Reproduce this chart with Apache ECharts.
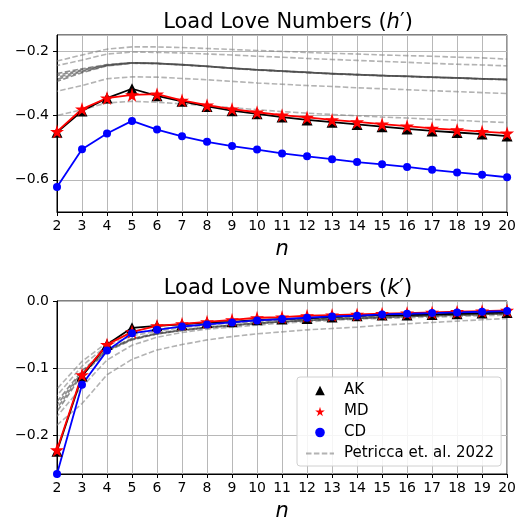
<!DOCTYPE html>
<html>
<head>
<meta charset="utf-8">
<script src="https://cdn.jsdelivr.net/npm/echarts@6/dist/echarts.min.js"></script>
<style>
  html, body { margin: 0; padding: 0; background: #fff; }
  #main { width: 519px; height: 523px; }
</style>
</head>
<body>
<div id="main"></div>
<script>
// degrees n = 2..20
const nList = [2, 3, 4, 5, 6, 7, 8, 9, 10, 11, 12, 13, 14, 15, 16, 17, 18, 19, 20];

// h' values
const hAK = [-0.452, -0.386, -0.346, -0.317, -0.339, -0.356, -0.372, -0.385, -0.395, -0.405, -0.414, -0.421, -0.428, -0.435, -0.442, -0.448, -0.453, -0.458, -0.464];
const hMD = [-0.450, -0.380, -0.346, -0.336, -0.334, -0.353, -0.368, -0.380, -0.390, -0.399, -0.406, -0.414, -0.420, -0.427, -0.433, -0.440, -0.445, -0.450, -0.455];
const hCD = [-0.622, -0.505, -0.456, -0.417, -0.444, -0.465, -0.482, -0.495, -0.506, -0.518, -0.527, -0.536, -0.545, -0.552, -0.560, -0.569, -0.577, -0.584, -0.592];

// Petricca et al. 2022 curves for h'
const hP1 = [-0.231, -0.212, -0.194, -0.187, -0.187, -0.189, -0.192, -0.195, -0.198, -0.201, -0.204, -0.207, -0.209, -0.212, -0.214, -0.216, -0.219, -0.221, -0.225];
const hP2 = [-0.245, -0.228, -0.209, -0.203, -0.204, -0.206, -0.209, -0.212, -0.216, -0.219, -0.223, -0.226, -0.229, -0.232, -0.235, -0.238, -0.241, -0.243, -0.246];
const hB1 = [-0.270, -0.255, -0.242, -0.236, -0.238, -0.242, -0.247, -0.253, -0.258, -0.262, -0.266, -0.270, -0.273, -0.276, -0.278, -0.281, -0.283, -0.286, -0.288];
const hB2 = [-0.276, -0.258, -0.243, -0.236, -0.238, -0.242, -0.247, -0.253, -0.258, -0.262, -0.266, -0.270, -0.273, -0.276, -0.278, -0.281, -0.283, -0.286, -0.288];
const hB3 = [-0.282, -0.261, -0.244, -0.237, -0.238, -0.242, -0.247, -0.253, -0.258, -0.262, -0.266, -0.270, -0.273, -0.276, -0.278, -0.281, -0.283, -0.286, -0.288];
const hB4 = [-0.288, -0.264, -0.245, -0.237, -0.239, -0.243, -0.248, -0.253, -0.258, -0.262, -0.266, -0.270, -0.273, -0.276, -0.279, -0.281, -0.284, -0.286, -0.289];
const hB5 = [-0.294, -0.267, -0.246, -0.238, -0.239, -0.243, -0.248, -0.254, -0.259, -0.263, -0.267, -0.271, -0.274, -0.277, -0.279, -0.282, -0.284, -0.287, -0.289];
const hP3 = [-0.325, -0.307, -0.286, -0.280, -0.281, -0.285, -0.289, -0.294, -0.299, -0.303, -0.307, -0.310, -0.314, -0.317, -0.320, -0.323, -0.326, -0.329, -0.332];
const hP4 = [-0.400, -0.382, -0.361, -0.356, -0.359, -0.364, -0.370, -0.376, -0.382, -0.388, -0.393, -0.397, -0.401, -0.405, -0.408, -0.412, -0.415, -0.419, -0.422];

// k' values
const kAK = [-0.224, -0.112, -0.065, -0.040, -0.037, -0.035, -0.032, -0.031, -0.028, -0.027, -0.026, -0.024, -0.022, -0.021, -0.021, -0.020, -0.019, -0.018, -0.017];
const kMD = [-0.222, -0.110, -0.065, -0.046, -0.037, -0.034, -0.031, -0.028, -0.025, -0.024, -0.022, -0.021, -0.020, -0.019, -0.018, -0.017, -0.016, -0.015, -0.014];
const kCD = [-0.258, -0.125, -0.074, -0.048, -0.043, -0.038, -0.035, -0.032, -0.029, -0.027, -0.025, -0.023, -0.022, -0.020, -0.019, -0.018, -0.017, -0.016, -0.015];

// Petricca et al. 2022 curves for k'
const kP1 = [-0.185, -0.153, -0.110, -0.087, -0.073, -0.065, -0.058, -0.053, -0.049, -0.046, -0.043, -0.041, -0.039, -0.036, -0.034, -0.032, -0.030, -0.028, -0.026];
const kP2 = [-0.172, -0.128, -0.088, -0.066, -0.054, -0.047, -0.042, -0.039, -0.036, -0.033, -0.031, -0.029, -0.027, -0.026, -0.025, -0.024, -0.023, -0.022, -0.021];
const kB1 = [-0.150, -0.104, -0.072, -0.056, -0.048, -0.043, -0.039, -0.036, -0.033, -0.031, -0.029, -0.027, -0.026, -0.024, -0.023, -0.022, -0.021, -0.020, -0.019];
const kB2 = [-0.155, -0.106, -0.073, -0.057, -0.049, -0.043, -0.039, -0.036, -0.033, -0.031, -0.029, -0.027, -0.026, -0.024, -0.023, -0.022, -0.021, -0.020, -0.019];
const kB3 = [-0.160, -0.108, -0.074, -0.057, -0.049, -0.044, -0.040, -0.036, -0.033, -0.031, -0.029, -0.027, -0.026, -0.024, -0.023, -0.022, -0.021, -0.020, -0.019];
const kB4 = [-0.165, -0.110, -0.075, -0.058, -0.049, -0.044, -0.040, -0.037, -0.034, -0.031, -0.029, -0.028, -0.026, -0.025, -0.023, -0.022, -0.021, -0.020, -0.019];
const kP3 = [-0.141, -0.097, -0.066, -0.052, -0.045, -0.040, -0.036, -0.033, -0.031, -0.029, -0.027, -0.025, -0.024, -0.023, -0.022, -0.021, -0.020, -0.019, -0.018];
const kP4 = [-0.131, -0.090, -0.062, -0.049, -0.042, -0.038, -0.034, -0.032, -0.030, -0.028, -0.026, -0.025, -0.023, -0.022, -0.021, -0.020, -0.019, -0.018, -0.017];

// thin outer curves and the dense dark bundle
const hRefs = [hP1, hP2, hP3, hP4];
const hBundle = [hB1, hB2, hB3, hB4, hB5];
const kRefs = [kP1, kP2, kP3, kP4];
const kBundle = [kB1, kB2, kB3, kB4];

const FONT = 'DejaVu Sans';
const STAR = 'path://M50,0 L61,35 L98,35 L68,57 L79,91 L50,70 L21,91 L32,57 L2,35 L39,35 Z';
const REF_NAME = 'Petricca et. al. 2022';

function pairs(ys) {
    return nList.map((n, i) => [n, ys[i]]);
}

function tickFmt(v) {
    return (v < 0 ? '\u2212' : '') + Math.abs(v).toFixed(1);
}

function refSeries(list, idx, color) {
    return list.map((ys, i) => ({
        name: REF_NAME,
        type: 'line',
        xAxisIndex: idx,
        yAxisIndex: idx,
        data: pairs(ys),
        symbol: 'none',
        silent: true,
        itemStyle: { color: 'rgba(128,128,128,0.6)' },
        lineStyle: {
            color: color,
            width: 1.6,
            type: [5.5, 2.4],
            dashOffset: (i * 2.3) % 7.9
        },
        z: 1
    }));
}

function mainSeries(name, ys, idx, color, symbol, size) {
    return {
        name: name,
        type: 'line',
        xAxisIndex: idx,
        yAxisIndex: idx,
        data: pairs(ys),
        symbol: symbol,
        symbolSize: size,
        lineStyle: { color: color, width: 1.8 },
        itemStyle: { color: color },
        z: 3
    };
}

function xAxisCfg(idx) {
    return {
        type: 'value',
        gridIndex: idx,
        position: 'bottom',
        min: 2,
        max: 20,
        interval: 1,
        name: 'n',
        nameLocation: 'middle',
        nameGap: 27,
        nameTextStyle: { fontFamily: FONT, fontStyle: 'italic', fontSize: 21, color: '#000' },
        axisLine: { show: true, onZero: false, lineStyle: { color: '#000', width: 1 } },
        axisTick: { show: true, length: 4, lineStyle: { color: '#000' } },
        axisLabel: { fontFamily: FONT, fontSize: 14, color: '#000', margin: 7 },
        splitLine: { show: true, lineStyle: { color: '#b8b8b8', width: 1 } }
    };
}

function yAxisCfg(idx, min, max, showMax) {
    return {
        type: 'value',
        gridIndex: idx,
        position: 'left',
        min: min,
        max: max,
        splitNumber: 3,
        axisLine: { show: true, onZero: false, lineStyle: { color: '#000', width: 1 } },
        axisTick: { show: true, length: 4, lineStyle: { color: '#000' } },
        axisLabel: {
            fontFamily: FONT, fontSize: 14, color: '#000', margin: 8,
            showMinLabel: false, showMaxLabel: showMax,
            formatter: tickFmt
        },
        splitLine: { show: true, lineStyle: { color: '#b8b8b8', width: 1 } }
    };
}

const titleRich = {
    t: { fontFamily: FONT, fontSize: 21, fontWeight: 'normal', color: '#000' },
    i: { fontFamily: FONT, fontSize: 21, fontWeight: 'normal', fontStyle: 'italic', color: '#000' }
};

const chart = echarts.init(document.getElementById('main'));
const option = {
    animation: false,
    backgroundColor: '#fff',
    title: [
        {
            text: '{t|Load Love Numbers (}{i|h}{t|\u2032)}',
            left: 283, top: 7, textAlign: 'center',
            textStyle: { fontWeight: 'normal', rich: titleRich }
        },
        {
            text: '{t|Load Love Numbers (}{i|k}{t|\u2032)}',
            left: 283, top: 273, textAlign: 'center',
            textStyle: { fontWeight: 'normal', rich: titleRich }
        }
    ],
    grid: [
        { left: 57, right: 9, top: 35, height: 177, show: true, borderColor: '#000', borderWidth: 1, containLabel: false },
        { left: 57, right: 9, top: 301, height: 176, show: true, borderColor: '#000', borderWidth: 1, containLabel: false }
    ],
    xAxis: [xAxisCfg(0), xAxisCfg(1)],
    yAxis: [yAxisCfg(0, -0.7, -0.15, false), yAxisCfg(1, -0.258, 0, true)],
    legend: {
        orient: 'vertical',
        left: 297,
        top: 377,
        itemWidth: 28,
        itemHeight: 12,
        itemGap: 6,
        padding: [6, 7, 5, 8],
        backgroundColor: 'rgba(255,255,255,0.85)',
        borderColor: '#d0d0d0',
        borderWidth: 1,
        borderRadius: 3,
        textStyle: { fontFamily: FONT, fontSize: 15, color: '#000', padding: [0, 0, 0, 5] },
        data: [
            { name: 'AK', lineStyle: { opacity: 0 } },
            { name: 'MD', lineStyle: { opacity: 0 } },
            { name: 'CD', lineStyle: { opacity: 0 } },
            { name: REF_NAME, itemStyle: { opacity: 0 } }
        ]
    },
    series: [].concat(
        refSeries(hRefs, 0, 'rgba(128,128,128,0.6)'),
        refSeries(hBundle, 0, 'rgba(70,70,70,0.6)'),
        refSeries(kRefs, 1, 'rgba(128,128,128,0.6)'),
        refSeries(kBundle, 1, 'rgba(70,70,70,0.6)'),
        [
            mainSeries('AK', hAK, 0, '#000', 'triangle', 11),
            mainSeries('MD', hMD, 0, '#ff0000', STAR, 14),
            mainSeries('CD', hCD, 0, '#0000ff', 'circle', 8),
            mainSeries('AK', kAK, 1, '#000', 'triangle', 11),
            mainSeries('MD', kMD, 1, '#ff0000', STAR, 14),
            mainSeries('CD', kCD, 1, '#0000ff', 'circle', 8)
        ]
    )
};
chart.setOption(option);
</script>
</body>
</html>
